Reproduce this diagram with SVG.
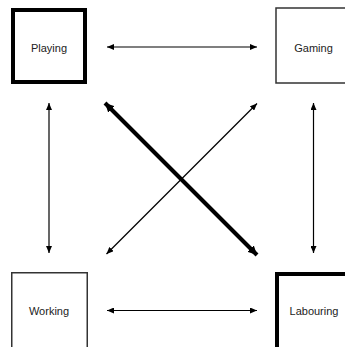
<svg xmlns="http://www.w3.org/2000/svg" width="345" height="347" viewBox="0 0 345 347">
<style>
.thin{fill:#fff;stroke:#333;stroke-width:1.5}
.thick{fill:#fff;stroke:#000;stroke-width:4}
.lbl{font-family:"Liberation Sans",Arial,sans-serif;font-size:11px;fill:#222;text-anchor:middle}
.c{stroke:#000;stroke-width:1.2;fill:none}
.ct{stroke:#000;stroke-width:4;fill:none}
</style>
<defs>
<marker id="a" markerUnits="userSpaceOnUse" markerWidth="8" markerHeight="6" refX="7" refY="3" orient="auto-start-reverse"><path d="M0,0 L7,3 L0,6 z" fill="#000"/></marker>
<marker id="b" markerUnits="userSpaceOnUse" markerWidth="10" markerHeight="9" refX="9" refY="4.5" orient="auto-start-reverse"><path d="M0,0 L9,4.5 L0,9 z" fill="#000"/></marker>
</defs>
<rect width="345" height="347" fill="#fff"/>
<g id="connectors">
<line class="c" x1="107" y1="47" x2="257" y2="47" marker-start="url(#a)" marker-end="url(#a)"/>
<line class="c" x1="107" y1="310.5" x2="257" y2="310.5" marker-start="url(#a)" marker-end="url(#a)"/>
<line class="c" x1="49" y1="103" x2="49" y2="253" marker-start="url(#a)" marker-end="url(#a)"/>
<line class="c" x1="313.5" y1="103" x2="313.5" y2="253" marker-start="url(#a)" marker-end="url(#a)"/>
<line class="c" x1="106.5" y1="254" x2="257" y2="103.5" marker-start="url(#a)" marker-end="url(#a)"/>
<line class="ct" x1="105" y1="103" x2="257" y2="255" marker-start="url(#b)" marker-end="url(#b)"/>
</g>
<g id="playing">
<rect class="thick" x="13" y="10" width="72" height="72"/>
<text class="lbl" x="49" y="51.5">Playing</text>
</g>
<g id="gaming">
<rect class="thin" x="276" y="8" width="85" height="75"/>
<text class="lbl" x="313.5" y="51.5">Gaming</text>
</g>
<g id="working">
<rect class="thin" x="11.75" y="272.75" width="75.5" height="85"/>
<text class="lbl" x="49" y="315">Working</text>
</g>
<g id="labouring">
<rect class="thick" x="277" y="274" width="85" height="85"/>
<text class="lbl" x="314" y="315">Labouring</text>
</g>
</svg>
